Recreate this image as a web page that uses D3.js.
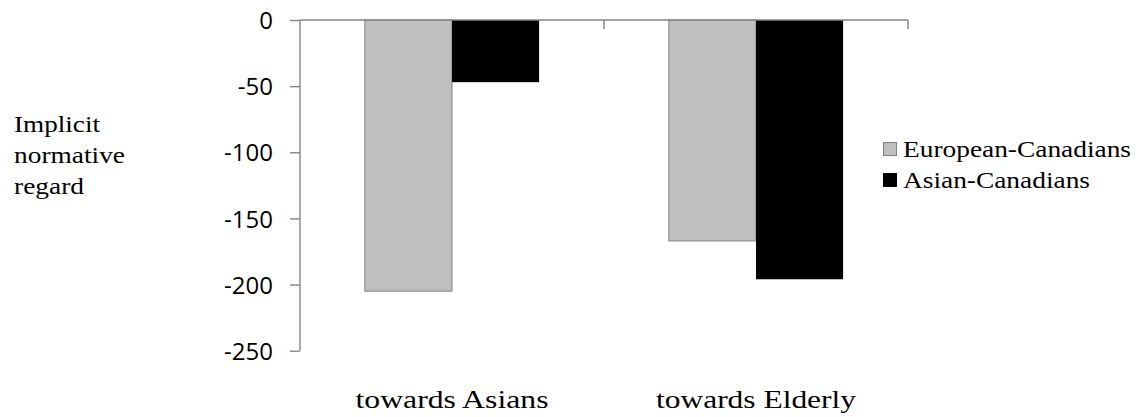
<!DOCTYPE html>
<html><head><meta charset="utf-8">
<script src="https://cdn.jsdelivr.net/npm/d3@7"></script>
<style>html,body{margin:0;padding:0;background:#fff;}</style>
</head><body>
<svg id="c" width="1138" height="417"></svg>
<script>
const categories = ["towards Asians", "towards Elderly"];
const seriesNames = ["European-Canadians", "Asian-Canadians"];
const europeanValues = [-205, -167];
const asianValues = [-47, -196];
const yTicks = [0, -50, -100, -150, -200, -250];
const yLabelLines = ["Implicit", "normative", "regard"];

const colors = {"European-Canadians": "#bfbfbf", "Asian-Canadians": "#000000"};
const strokes = {"European-Canadians": "#808080", "Asian-Canadians": "#000000"};
const axisColor = "#868686";
const serifFont = "Liberation Serif, Times New Roman, DejaVu Serif, serif";

// measured text widths in the reference (for fitting the substitute serif font)
const catWidths = {"towards Asians": 193, "towards Elderly": 200};
const yLabelWidths = {"Implicit": 86, "normative": 111, "regard": 70};
const legendWidths = {"European-Canadians": 228, "Asian-Canadians": 187};

const svg = d3.select("#c");
const y = d3.scaleLinear().domain([-250, 0]).range([350.7, 20]);
const x0 = d3.scaleBand().domain(categories).range([300, 908]).paddingInner(0).paddingOuter(0);
const x1 = d3.scaleBand().domain(seriesNames).range([0, x0.bandwidth()]).paddingInner(0).paddingOuter(0.745);

const data = categories.map((c, i) => ({cat: c, values: [
  {s: seriesNames[0], v: europeanValues[i]},
  {s: seriesNames[1], v: asianValues[i]}
]}));

const g = svg.append("g");
g.selectAll("g.grp").data(data).join("g").attr("class","grp")
  .attr("transform", d => `translate(${x0(d.cat)},0)`)
  .selectAll("rect").data(d => d.values).join("rect")
  .attr("x", d => x1(d.s))
  .attr("width", x1.bandwidth())
  .attr("y", d => y(0))
  .attr("height", d => y(d.v) - y(0))
  .attr("fill", d => colors[d.s])
  .attr("stroke", d => d.s === seriesNames[0] ? strokes[d.s] : "none")
  .attr("stroke-width", 1);

const yAxis = d3.axisLeft(y).tickValues(yTicks).tickSize(10).tickPadding(17).tickFormat(d => String(d));
const ya = svg.append("g").attr("transform", "translate(300,0)").call(yAxis);
ya.attr("font-family", "Open Sans").attr("font-size", 24);
ya.select(".domain").remove();
ya.append("line").attr("x1",0).attr("x2",0).attr("y1",y(0)).attr("y2",y(-250)).attr("stroke",axisColor).attr("stroke-width",1.4);
ya.selectAll(".tick line").attr("stroke", axisColor).attr("stroke-width",1.4);
ya.selectAll(".tick text").attr("fill","#000").attr("dy","0.36em");

const xa = svg.append("g").attr("transform", `translate(0,${y(0)})`);
xa.append("line").attr("x1",300).attr("x2",908).attr("y1",0).attr("y2",0).attr("stroke",axisColor).attr("stroke-width",1.4);
const bounds = [x0(categories[1]), x0(categories[1]) + x0.bandwidth()];
xa.selectAll("line.tk").data(bounds).join("line").attr("class","tk")
  .attr("x1", d=>d).attr("x2", d=>d).attr("y1",0).attr("y2",9)
  .attr("stroke",axisColor).attr("stroke-width",1.4);

svg.selectAll("text.cat").data(categories).join("text").attr("class","cat")
  .attr("x", d => x0(d) + x0.bandwidth()/2)
  .attr("y", 408)
  .attr("text-anchor","middle")
  .attr("font-family", serifFont)
  .attr("font-size", 26)
  .attr("textLength", d => catWidths[d])
  .attr("lengthAdjust", "spacingAndGlyphs")
  .text(d => d);

svg.selectAll("text.ylab").data(yLabelLines).join("text").attr("class","ylab")
  .attr("x", 14)
  .attr("y", (d, i) => 132 + i * 31)
  .attr("font-family", serifFont)
  .attr("font-size", 23)
  .attr("textLength", d => yLabelWidths[d])
  .attr("lengthAdjust", "spacingAndGlyphs")
  .text(d => d);

const lg = svg.append("g");
const legY = [157, 188];
seriesNames.forEach((s, i) => {
  lg.append("rect").attr("x",883.5).attr("y",legY[i]-14.5).attr("width",13).attr("height",13)
    .attr("fill",colors[s]).attr("stroke",strokes[s]).attr("stroke-width",1);
  lg.append("text").attr("x",903).attr("y",legY[i])
    .attr("font-family", serifFont)
    .attr("font-size", 23)
    .attr("textLength", legendWidths[s])
    .attr("lengthAdjust", "spacingAndGlyphs")
    .text(s);
});
</script>
</body></html>
